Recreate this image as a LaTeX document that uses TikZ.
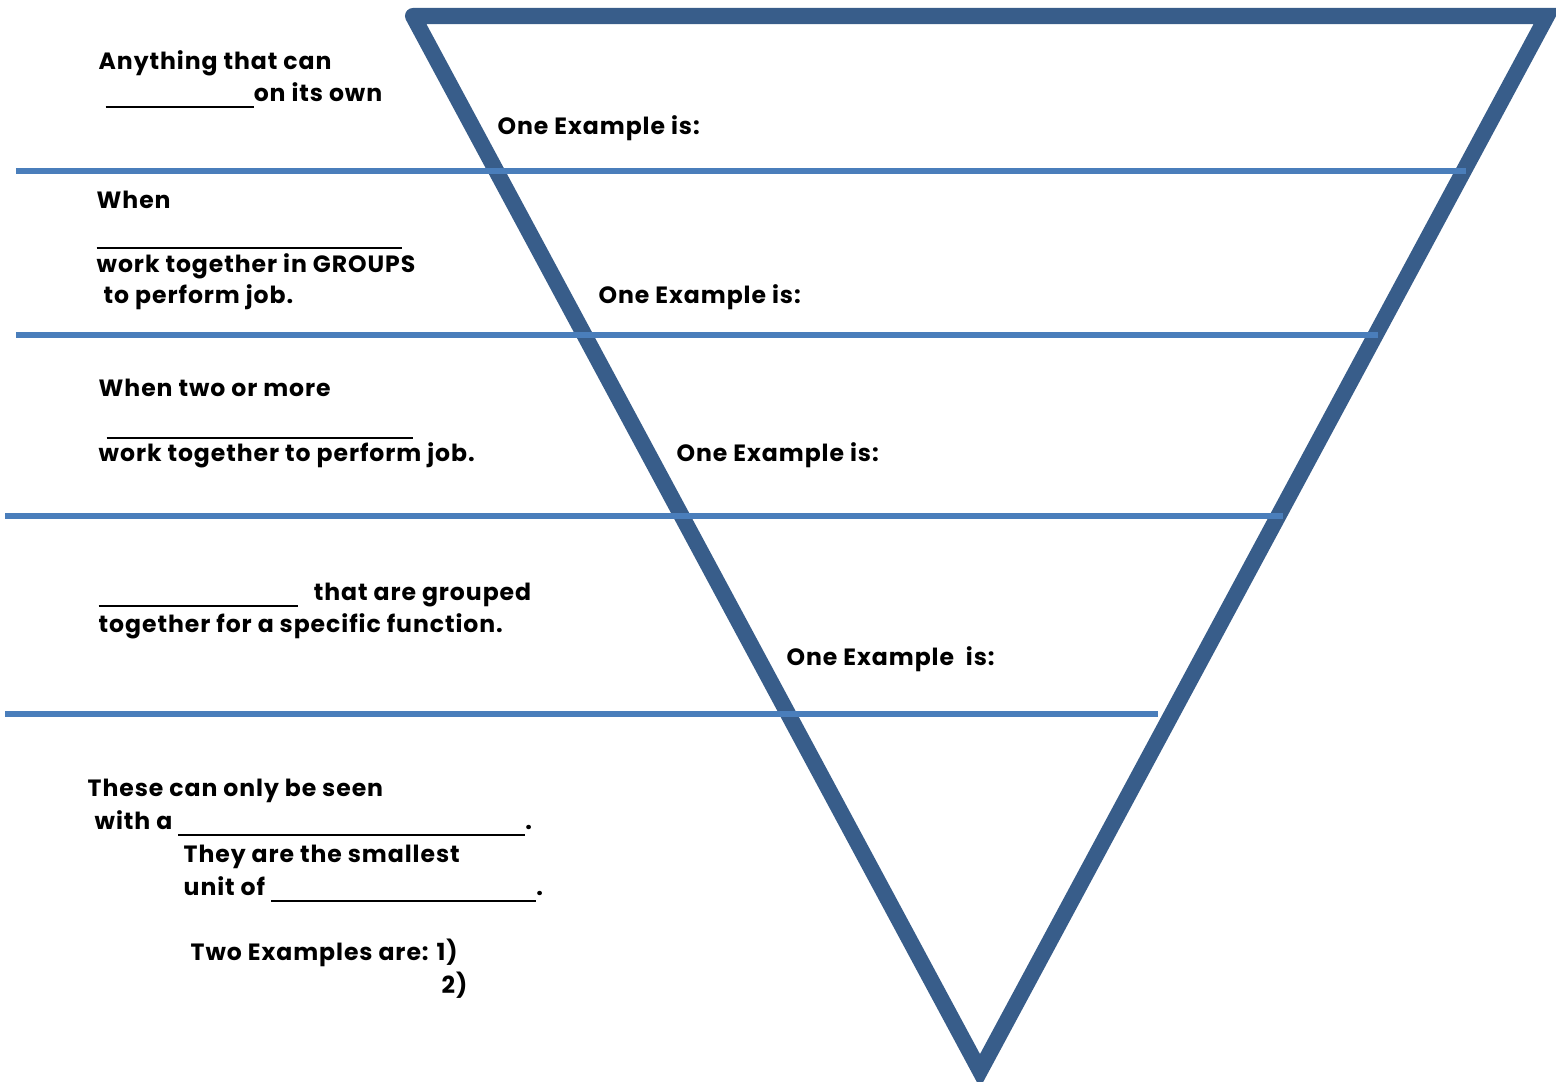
\documentclass[tikz,border=0pt]{standalone}
\usepackage{fontspec}
\setmainfont{Poppins}[LetterSpace=4.0]
\definecolor{tricol}{HTML}{385D8A}
\definecolor{bandcol}{HTML}{4A7EBB}
\newcommand{\blank}[1]{\rule[-1.6pt]{#1}{0.45pt}}

\begin{document}
\begin{tikzpicture}[x=0.01cm, y=-0.01cm,
    txt/.style={anchor=base west, inner sep=0pt, font=\fontsize{6.7pt}{9pt}\selectfont\bfseries},
    band/.style={bandcol, line width=0.06cm}]
  \useasboundingbox (0,0) rectangle (1556,1082);

  % the big triangle
  \coordinate (tl) at (413,16);
  \coordinate (tr) at (1547,16);
  \coordinate (bot) at (980,1071);
  \draw[tricol, line width=0.16cm, line cap=round, line join=miter] (tl) -- (tr) -- (bot) -- (tl);

  % separating lines
  \coordinate (l1a) at (16,171);  \coordinate (l1b) at (1466,171);
  \coordinate (l2a) at (16,335);  \coordinate (l2b) at (1378,335);
  \coordinate (l3a) at (5,516);   \coordinate (l3b) at (1283,516);
  \coordinate (l4a) at (5,714);   \coordinate (l4b) at (1158,714);
  \draw[band] (l1a) -- (l1b);
  \draw[band] (l2a) -- (l2b);
  \draw[band] (l3a) -- (l3b);
  \draw[band] (l4a) -- (l4b);

  % level 1
  \node[txt] (a1) at (98,70) {Anything that can};
  \node[txt] (a2) at (105,102) {\blank{1.48cm}on its own};
  \node[txt] (ex1) at (497,135) {One Example is:};

  % level 2
  \node[txt] (b1) at (96,209) {When};
  \node[txt] (b2) at (96,243) {\blank{3.05cm}};
  \node[txt] (b3) at (96,273) {work together in GROUPS};
  \node[txt] (b4) at (103,304) {to perform job.};
  \node[txt] (ex2) at (598,304) {One Example is:};

  % level 3
  \node[txt] (c1) at (98,397) {When two or more};
  \node[txt] (c2) at (106,433) {\blank{3.06cm}};
  \node[txt] (c3) at (98,462) {work together to perform job.};
  \node[txt] (ex3) at (676,462) {One Example is:};

  % level 4
  \node[txt] (d1) at (98,601) {\blank{1.99cm}\hspace{0.16cm}that are grouped};
  \node[txt] (d2) at (98,633) {together for a specific function.};
  \node[txt] (ex4) at (786,666) {One Example~ is:};

  % level 5
  \node[txt] (e1) at (87,797) {These can only be seen};
  \node[txt] (e2) at (94,830) {with a \blank{3.47cm}.};
  \node[txt] (e3) at (183,863) {They are the smallest};
  \node[txt] (e4) at (183,896) {unit of \blank{2.65cm}.};
  \node[txt] (e5) at (190,961) {Two Examples are: 1)};
  \node[txt] (e6) at (441,994) {2)};
\end{tikzpicture}
\end{document}
